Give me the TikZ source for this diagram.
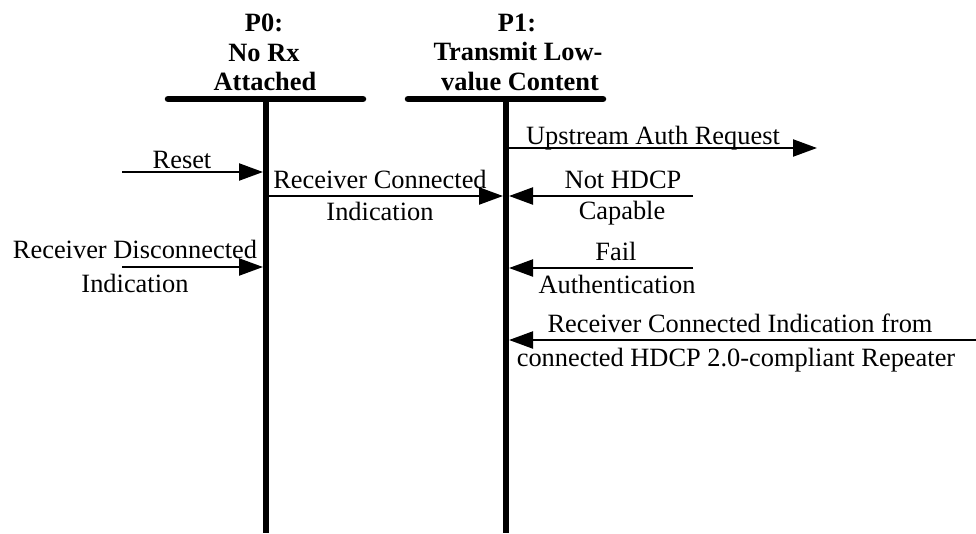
\documentclass[tikz,border=0pt]{standalone}
\usepackage{fontspec}
\setmainfont{Liberation Serif}
\usetikzlibrary{arrows.meta}
\begin{document}
\begin{tikzpicture}[x=1pt,y=-1pt,
  lbl/.style={anchor=base,inner sep=0pt,font=\fontsize{26.4}{32}\selectfont},
  hdr/.style={anchor=base,inner sep=0pt,font=\fontsize{26.4}{30}\selectfont\bfseries},
  bar/.style={line width=6.5pt,line cap=round},
  life/.style={line width=6pt},
  msg/.style={line width=2.2pt,-{Triangle[length=24pt,width=17pt]}}]
\useasboundingbox (0,0) rectangle (976,533);
% headers
\node[hdr] (h0a) at (264,31) {P0:};
\node[hdr] (h0b) at (264,61) {No Rx};
\node[hdr] (h0c) at (265,90) {Attached};
\node[hdr] (h1a) at (517,31) {P1:};
\node[hdr] (h1b) at (518,60) {Transmit Low-};
\node[hdr] (h1c) at (520,90) {value Content};
% bars and lifelines
\coordinate (b0l) at (168,99); \coordinate (b0r) at (363,99);
\coordinate (b1l) at (408,99); \coordinate (b1r) at (603,99);
\coordinate (l0t) at (266,99); \coordinate (l0b) at (266,533);
\coordinate (l1t) at (506,99); \coordinate (l1b) at (506,533);
\draw[bar] (b0l) -- (b0r);
\draw[bar] (b1l) -- (b1r);
\draw[life] (l0t) -- (l0b);
\draw[life] (l1t) -- (l1b);
% Reset
\coordinate (rs0) at (122,172); \coordinate (rs1) at (263,172);
\draw[msg] (rs0) -- (rs1);
\node[lbl] (trs) at (182,168) {Reset};
% Receiver Connected
\coordinate (rc0) at (269,196); \coordinate (rc1) at (503,196);
\draw[msg] (rc0) -- (rc1);
\node[lbl] (trc1) at (380,188) {Receiver Connected};
\node[lbl] (trc2) at (380,220) {Indication};
% Receiver Disconnected
\coordinate (rd0) at (122,267); \coordinate (rd1) at (263,267);
\draw[msg] (rd0) -- (rd1);
\node[lbl] (trd1) at (135,258) {Receiver Disconnected};
\node[lbl] (trd2) at (135,292) {Indication};
% Upstream Auth Request
\coordinate (ua0) at (509,148); \coordinate (ua1) at (817,148);
\draw[msg] (ua0) -- (ua1);
\node[lbl] (tua) at (653,144) {Upstream Auth Request};
% Not HDCP Capable
\coordinate (nh0) at (693,196); \coordinate (nh1) at (509,196);
\draw[msg] (nh0) -- (nh1);
\node[lbl] (tnh1) at (623,188) {Not HDCP};
\node[lbl] (tnh2) at (622,219) {Capable};
% Fail Authentication
\coordinate (fa0) at (693,268); \coordinate (fa1) at (509,268);
\draw[msg] (fa0) -- (fa1);
\node[lbl] (tfa1) at (616,260) {Fail};
\node[lbl] (tfa2) at (617,293) {Authentication};
% Receiver Connected from Repeater
\coordinate (rr0) at (976,340); \coordinate (rr1) at (509,340);
\draw[msg] (rr0) -- (rr1);
\node[lbl] (trr1) at (740,332) {Receiver Connected Indication from};
\node[lbl] (trr2) at (736,366) {connected HDCP 2.0-compliant Repeater};
\end{tikzpicture}
\end{document}
